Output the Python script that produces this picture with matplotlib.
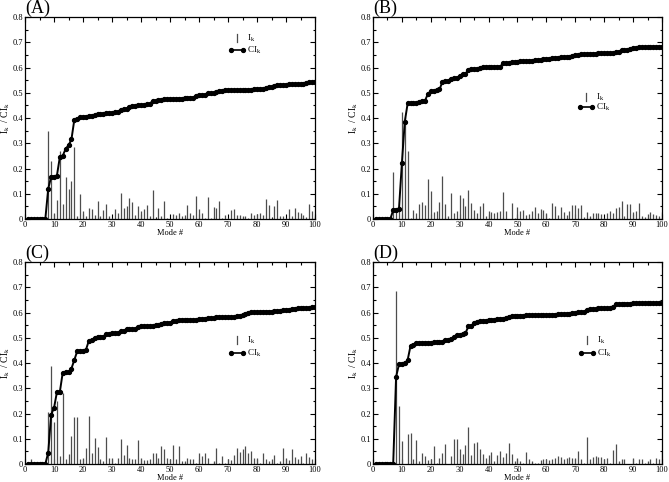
import numpy as np
import matplotlib
matplotlib.use('Agg')
import matplotlib.pyplot as plt
from matplotlib.ticker import MultipleLocator, FuncFormatter

plt.rcParams['font.family'] = ['Liberation Serif', 'DejaVu Serif']
plt.rcParams['mathtext.fontset'] = 'stix'

modes = np.arange(1, 101)

# I_k (bars) and CI_k (cumulative), modes 1..100
I_A = [0, 0, 0, 0, 0, 0, 0, 0.347, 0.228, 0.022,
       0.075, 0.27, 0.058, 0.168, 0.12, 0.15, 0.284, 0.01, 0.098, 0.03,
       0.01, 0.042, 0.04, 0.015, 0.07, 0.01, 0.035, 0.058, 0.01, 0.005,
       0.04, 0.025, 0.105, 0.045, 0.05, 0.085, 0.068, 0.015, 0.05, 0.03,
       0.04, 0.055, 0.01, 0.113, 0.005, 0.045, 0.01, 0.073, 0.005, 0.0,
       0.02, 0.015, 0.025, 0.01, 0.015, 0.055, 0.025, 0.015, 0.093, 0.04,
       0.025, 0.005, 0.088, 0.005, 0.048, 0.045, 0.073, 0.005, 0.015, 0.003,
       0.035, 0.04, 0.015, 0.015, 0.01, 0.01, 0.005, 0.025, 0.015, 0.02,
       0.025, 0.015, 0.08, 0.055, 0.005, 0.05, 0.075, 0.01, 0.01, 0.005,
       0.038, 0.01, 0.042, 0.028, 0.022, 0.015, 0.008, 0.06, 0.03, 0.01]
CI_A = [0, 0, 0, 0, 0, 0, 0, 0.12, 0.167, 0.168,
        0.172, 0.245, 0.25, 0.278, 0.292, 0.315, 0.393, 0.395, 0.403, 0.405,
        0.406, 0.408, 0.409, 0.41, 0.414, 0.415, 0.416, 0.419, 0.42, 0.42,
        0.422, 0.424, 0.433, 0.435, 0.437, 0.443, 0.447, 0.448, 0.45, 0.451,
        0.453, 0.456, 0.456, 0.468, 0.468, 0.47, 0.47, 0.475, 0.475, 0.475,
        0.476, 0.476, 0.477, 0.477, 0.478, 0.48, 0.48, 0.481, 0.489, 0.49,
        0.49, 0.49, 0.498, 0.498, 0.5, 0.502, 0.508, 0.508, 0.509, 0.509,
        0.51, 0.511, 0.511, 0.511, 0.511, 0.512, 0.512, 0.512, 0.513, 0.513,
        0.513, 0.514, 0.52, 0.522, 0.523, 0.525, 0.531, 0.531, 0.531, 0.532,
        0.533, 0.533, 0.534, 0.535, 0.535, 0.536, 0.537, 0.541, 0.542, 0.542]

I_B = [0, 0, 0, 0, 0, 0, 0.188, 0.045, 0.05, 0.423,
       0.405, 0.27, 0.005, 0.035, 0.025, 0.06, 0.068, 0.055, 0.16, 0.11,
       0.028, 0.03, 0.068, 0.172, 0.058, 0.01, 0.102, 0.025, 0.03, 0.097,
       0.083, 0.05, 0.113, 0.063, 0.035, 0.025, 0.05, 0.063, 0.01, 0.03,
       0.028, 0.025, 0.028, 0.03, 0.108, 0.03, 0.0, 0.062, 0.005, 0.048,
       0.03, 0.035, 0.015, 0.02, 0.03, 0.048, 0.025, 0.038, 0.035, 0.025,
       0.005, 0.065, 0.05, 0.015, 0.048, 0.028, 0.015, 0.03, 0.057, 0.057,
       0.045, 0.057, 0.008, 0.028, 0.01, 0.022, 0.025, 0.022, 0.02, 0.005,
       0.025, 0.03, 0.025, 0.045, 0.048, 0.07, 0.01, 0.06, 0.058, 0.028,
       0.03, 0.065, 0.01, 0.008, 0.02, 0.028, 0.02, 0.015, 0.01, 0.028]
CI_B = [0, 0, 0, 0, 0, 0, 0.035, 0.037, 0.04, 0.22,
        0.385, 0.458, 0.458, 0.459, 0.46, 0.462, 0.466, 0.469, 0.495, 0.507,
        0.508, 0.509, 0.513, 0.542, 0.545, 0.545, 0.556, 0.557, 0.558, 0.567,
        0.574, 0.576, 0.589, 0.593, 0.594, 0.595, 0.597, 0.601, 0.601, 0.602,
        0.603, 0.603, 0.604, 0.604, 0.616, 0.617, 0.617, 0.621, 0.621, 0.623,
        0.624, 0.625, 0.625, 0.626, 0.627, 0.629, 0.63, 0.631, 0.632, 0.632,
        0.632, 0.636, 0.639, 0.639, 0.641, 0.642, 0.642, 0.643, 0.645, 0.648,
        0.65, 0.653, 0.653, 0.654, 0.654, 0.655, 0.655, 0.656, 0.656, 0.656,
        0.657, 0.657, 0.658, 0.66, 0.663, 0.668, 0.668, 0.671, 0.675, 0.676,
        0.677, 0.681, 0.681, 0.681, 0.681, 0.682, 0.682, 0.682, 0.683, 0.683]

I_C = [0, 0.02, 0, 0, 0, 0, 0, 0.205, 0.39, 0.165,
       0.25, 0.03, 0.28, 0.02, 0.04, 0.11, 0.187, 0.187, 0.02, 0.025,
       0.065, 0.192, 0.045, 0.102, 0.068, 0.02, 0.01, 0.108, 0.025, 0.025,
       0.005, 0.025, 0.098, 0.035, 0.075, 0.025, 0.02, 0.02, 0.097, 0.025,
       0.015, 0.015, 0.02, 0.045, 0.045, 0.025, 0.072, 0.058, 0.025, 0.02,
       0.075, 0.02, 0.07, 0.01, 0.01, 0.025, 0.02, 0.02, 0.005, 0.045,
       0.03, 0.042, 0.025, 0.0, 0.01, 0.065, 0.005, 0.03, 0.005, 0.02,
       0.015, 0.035, 0.065, 0.048, 0.058, 0.072, 0.045, 0.05, 0.022, 0.025,
       0.005, 0.043, 0.02, 0.01, 0.02, 0.035, 0.005, 0.01, 0.062, 0.025,
       0.015, 0.06, 0.028, 0.02, 0.032, 0.005, 0.042, 0.028, 0.02, 0.01]
CI_C = [0, 0, 0, 0, 0, 0, 0, 0.045, 0.195, 0.222,
        0.285, 0.285, 0.362, 0.363, 0.365, 0.378, 0.412, 0.447, 0.448, 0.448,
        0.452, 0.488, 0.49, 0.5, 0.504, 0.505, 0.505, 0.515, 0.516, 0.517,
        0.517, 0.517, 0.526, 0.528, 0.533, 0.534, 0.534, 0.534, 0.543, 0.545,
        0.545, 0.545, 0.545, 0.547, 0.549, 0.55, 0.555, 0.558, 0.559, 0.56,
        0.565, 0.565, 0.57, 0.571, 0.571, 0.571, 0.571, 0.571, 0.571, 0.573,
        0.574, 0.576, 0.577, 0.577, 0.577, 0.581, 0.582, 0.582, 0.582, 0.582,
        0.582, 0.582, 0.586, 0.588, 0.591, 0.596, 0.598, 0.601, 0.602, 0.602,
        0.602, 0.604, 0.604, 0.604, 0.604, 0.605, 0.605, 0.606, 0.61, 0.611,
        0.611, 0.614, 0.615, 0.616, 0.616, 0.616, 0.618, 0.619, 0.62, 0.62]

I_D = [0, 0, 0, 0, 0, 0, 0, 0.686, 0.23, 0.09,
       0.0, 0.12, 0.122, 0.02, 0.097, 0.01, 0.042, 0.03, 0.015, 0.02,
       0.072, 0.005, 0.025, 0.045, 0.078, 0.0, 0.03, 0.1, 0.098, 0.06,
       0.04, 0.075, 0.148, 0.035, 0.082, 0.087, 0.06, 0.04, 0.025, 0.035,
       0.048, 0.01, 0.035, 0.05, 0.028, 0.042, 0.082, 0.04, 0.012, 0.022,
       0.01, 0.005, 0.048, 0.018, 0.012, 0.005, 0.003, 0.015, 0.018, 0.02,
       0.015, 0.02, 0.022, 0.03, 0.028, 0.02, 0.025, 0.028, 0.025, 0.025,
       0.05, 0.02, 0.005, 0.107, 0.02, 0.028, 0.032, 0.028, 0.028, 0.02,
       0.025, 0.005, 0.055, 0.08, 0.012, 0.02, 0.02, 0.0, 0.0, 0.022,
       0.005, 0.018, 0.018, 0.003, 0.012, 0.02, 0.005, 0.025, 0.018, 0.05]
CI_D = [0, 0, 0, 0, 0, 0, 0, 0.345, 0.395, 0.396,
        0.399, 0.412, 0.468, 0.47, 0.48, 0.48, 0.481, 0.481, 0.481, 0.481,
        0.482, 0.482, 0.483, 0.484, 0.49, 0.492, 0.495, 0.502, 0.51, 0.512,
        0.513, 0.518, 0.545, 0.548, 0.557, 0.563, 0.566, 0.567, 0.568, 0.569,
        0.571, 0.571, 0.573, 0.575, 0.576, 0.578, 0.584, 0.585, 0.587, 0.587,
        0.588, 0.588, 0.589, 0.589, 0.589, 0.589, 0.589, 0.59, 0.59, 0.591,
        0.591, 0.592, 0.592, 0.593, 0.594, 0.594, 0.595, 0.596, 0.597, 0.598,
        0.601, 0.601, 0.601, 0.611, 0.612, 0.613, 0.614, 0.616, 0.617, 0.617,
        0.618, 0.618, 0.621, 0.633, 0.634, 0.634, 0.635, 0.635, 0.635, 0.636,
        0.636, 0.636, 0.636, 0.637, 0.637, 0.637, 0.637, 0.638, 0.638, 0.638]

# legend key placement (axes fractions): x of bar key, y of I row, y of CI row
panels = [('(A)', I_A, CI_A, (0.731, 0.896, 0.837)),
          ('(B)', I_B, CI_B, (0.737, 0.604, 0.554)),
          ('(C)', I_C, CI_C, (0.731, 0.614, 0.550)),
          ('(D)', I_D, CI_D, (0.740, 0.614, 0.550))]

# axes rectangles [left, bottom, width, height] in figure fractions
rects = [[0.0374, 0.5456, 0.4335, 0.4191],
         [0.5575, 0.5456, 0.4320, 0.4191],
         [0.0374, 0.0373, 0.4335, 0.4191],
         [0.5575, 0.0373, 0.4320, 0.4191]]

bar_color = '0.3'

fig = plt.figure(figsize=(6.69, 4.82), dpi=100)

for (tag, I, CI, (lx, ly1, ly2)), rect in zip(panels, rects):
    ax = fig.add_axes(rect)
    ax.vlines(modes, 0, I, colors=bar_color, linewidth=0.9, zorder=2)
    ax.plot(modes, CI, color='black', linewidth=1.4, marker='o',
            markersize=2.8, zorder=3)
    ax.set_xlim(0, 100)
    ax.set_ylim(0, 0.8)
    ax.xaxis.set_major_locator(MultipleLocator(10))
    ax.xaxis.set_minor_locator(MultipleLocator(5))
    ax.yaxis.set_major_locator(MultipleLocator(0.1))
    ax.yaxis.set_minor_locator(MultipleLocator(0.05))
    ax.yaxis.set_major_formatter(FuncFormatter(lambda v, p: '0' if abs(v) < 1e-9 else f'{v:.1f}'))
    ax.tick_params(which='both', direction='in', top=True, right=True,
                   labelsize=6, pad=1.5, width=0.8)
    ax.tick_params(which='major', length=3.5)
    ax.tick_params(which='minor', length=1.8)
    for s in ax.spines.values():
        s.set_linewidth(0.9)
    ax.set_xlabel('Mode #', fontsize=6, labelpad=0)
    ax.set_ylabel(r'$\mathregular{I_k\ \ /\ CI_k}$', fontsize=7)
    ax.yaxis.set_label_coords(-0.044, 0.5)
    ax.text(0.0, 1.0, tag, transform=ax.transAxes, fontsize=13,
            ha='left', va='bottom')

    # hand-drawn legend keys
    tr = ax.transAxes
    ax.plot([lx, lx], [ly1 - 0.02, ly1 + 0.02], transform=tr,
            color=bar_color, linewidth=0.9, clip_on=False)
    ax.text(lx + 0.035, ly1, r'$\mathregular{I_k}$', transform=tr,
            fontsize=6.5, va='center', ha='left')
    ax.plot([lx - 0.021, lx + 0.021], [ly2, ly2], transform=tr,
            color='black', linewidth=1.2, marker='o', markersize=2.8,
            clip_on=False)
    ax.text(lx + 0.035, ly2, r'$\mathregular{CI_k}$', transform=tr,
            fontsize=6.5, va='center', ha='left')

fig.savefig('out.png', dpi=100)
